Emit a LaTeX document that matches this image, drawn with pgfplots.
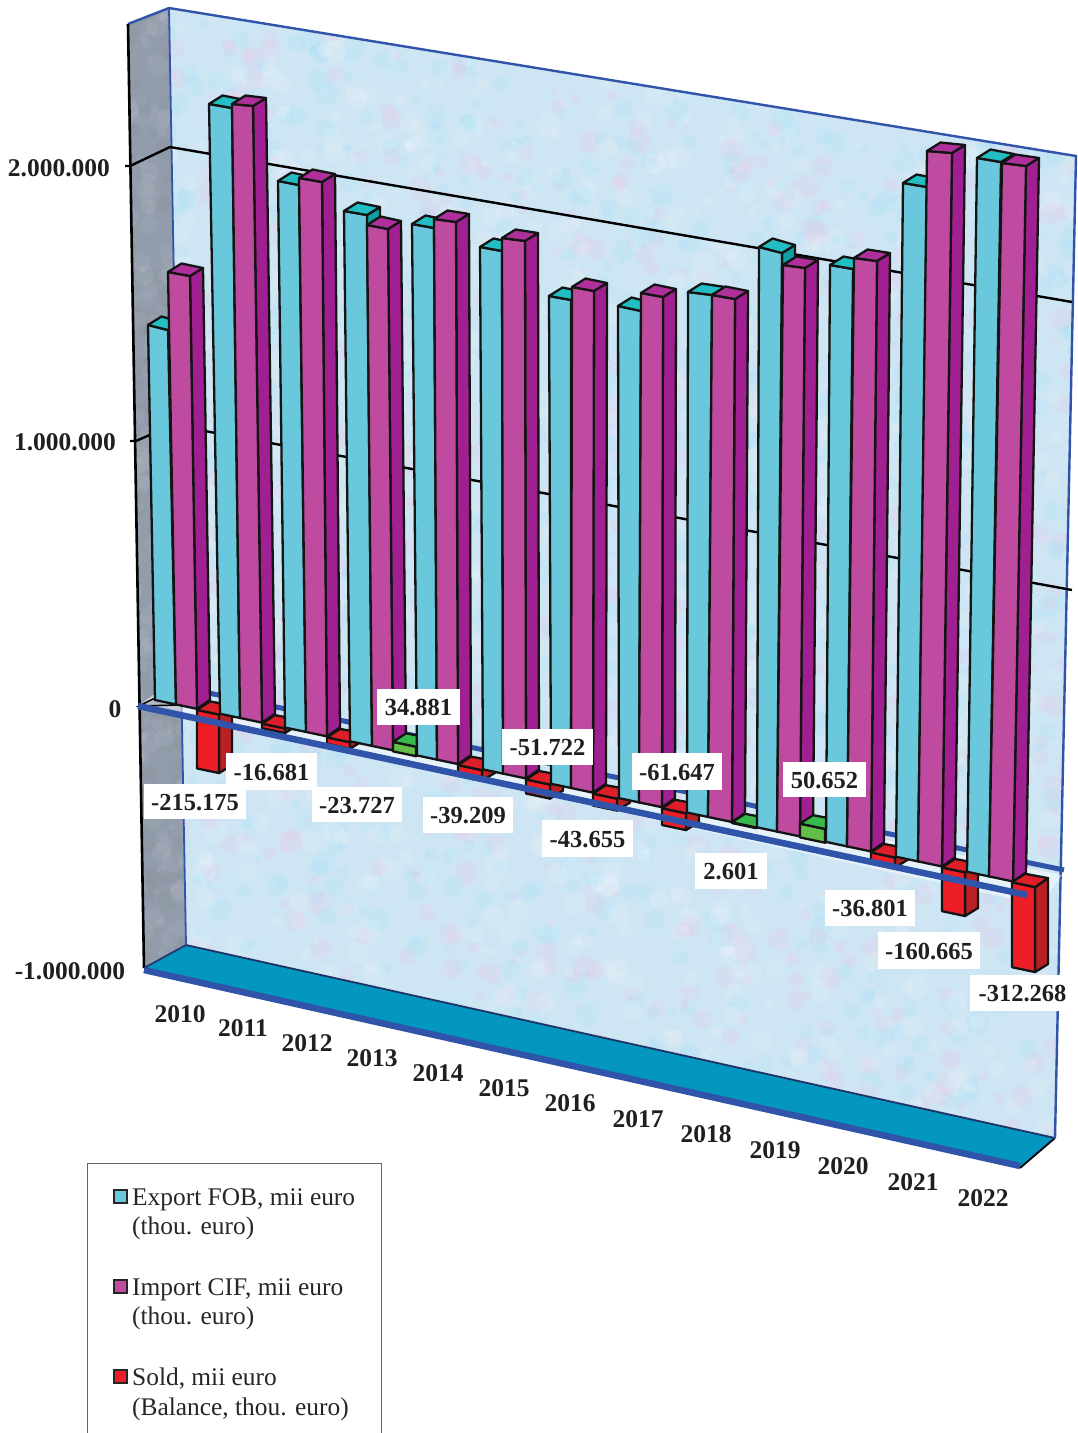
\documentclass[border=0pt]{standalone}
\usepackage{pgfplots}
\pgfplotsset{compat=1.18}
\usepackage{fontspec}
\setmainfont{Liberation Serif}
\definecolor{wallc}{RGB}{206,229,243}
\definecolor{sidewall}{RGB}{146,156,170}
\definecolor{floorc}{RGB}{3,150,190}
\definecolor{blueline}{RGB}{48,84,170}
\definecolor{expF}{RGB}{105,200,220}
\definecolor{expS}{RGB}{15,160,165}
\definecolor{expT}{RGB}{35,190,195}
\definecolor{impF}{RGB}{190,75,160}
\definecolor{impS}{RGB}{160,32,145}
\definecolor{impT}{RGB}{175,48,155}
\definecolor{redF}{RGB}{237,30,38}
\definecolor{redS}{RGB}{185,32,36}
\definecolor{redT}{RGB}{222,30,40}
\definecolor{grnF}{RGB}{98,190,72}
\definecolor{grnS}{RGB}{70,160,60}
\definecolor{grnT}{RGB}{55,185,75}
% y of the foot of a bar on the zero plane, in reference pixels
\newcommand{\ybase}[2]{\pgfmathsetmacro#1{700+0.2115*(#2-155)}}
% one face of a bar
\newcommand{\face}[9]{\addplot[draw=black!92,line width=2.3pt,line join=round,fill=#9,forget plot] coordinates {(#1,#2)(#3,#4)(#5,#6)(#7,#8)} -- cycle;}
% box: x top-left, y top-left, x top-right, y top-right, x foot-left, x foot-right, colour prefix
\newcommand{\tallbar}[7]{%
  \ybase{\yl}{#5}\ybase{\yr}{#6}%
  \pgfmathsetmacro{\xtb}{#3+13}\pgfmathsetmacro{\ytb}{#4-8}%
  \pgfmathsetmacro{\xtc}{#1+13.5}\pgfmathsetmacro{\ytc}{#2-8.5}%
  \pgfmathsetmacro{\xbb}{#6+13}\pgfmathsetmacro{\ybb}{\yr-9}%
  \face{#3}{#4}{\xtb}{\ytb}{\xbb}{\ybb}{#6}{\yr}{#7S}%
  \face{#1}{#2}{#3}{#4}{#6}{\yr}{#5}{\yl}{#7F}%
  \face{#1}{#2}{#3}{#4}{\xtb}{\ytb}{\xtc}{\ytc}{#7T}%
}
% balance bar: x left, x right, value in mil. euro (drawn below zero if negative)
\newcommand{\soldbar}[3]{%
  \ybase{\ya}{#1}\ybase{\yb}{#2}%
  \pgfmathsetmacro{\ya}{\ya+1}\pgfmathsetmacro{\yb}{\yb+1}%
  \pgfmathsetmacro{\hh}{0.272*abs(#3)}%
  \pgfmathsetmacro{\tl}{#3<0 ? \ya : \ya-\hh}\pgfmathsetmacro{\tr}{#3<0 ? \yb : \yb-\hh}%
  \pgfmathsetmacro{\bl}{#3<0 ? \ya+\hh : \ya}\pgfmathsetmacro{\br}{#3<0 ? \yb+\hh : \yb}%
  \pgfmathsetmacro{\xrb}{#2+13}\pgfmathsetmacro{\xlb}{#1+13}%
  \pgfmathsetmacro{\ytr}{\tr-9}\pgfmathsetmacro{\ybr}{\br-8}\pgfmathsetmacro{\ytl}{\tl-8.5}%
  \ifdim#3pt<0pt
    \face{#2}{\tr}{\xrb}{\ytr}{\xrb}{\ybr}{#2}{\br}{redS}%
    \face{#1}{\tl}{#2}{\tr}{#2}{\br}{#1}{\bl}{redF}%
    \face{#1}{\tl}{#2}{\tr}{\xrb}{\ytr}{\xlb}{\ytl}{redT}%
  \else
    \face{#2}{\tr}{\xrb}{\ytr}{\xrb}{\ybr}{#2}{\br}{grnS}%
    \face{#1}{\tl}{#2}{\tr}{#2}{\br}{#1}{\bl}{grnF}%
    \face{#1}{\tl}{#2}{\tr}{\xrb}{\ytr}{\xlb}{\ytl}{grnT}%
  \fi
}
\newcommand{\lab}[5]{\node[fill=white,inner sep=0pt,anchor=center,text depth=0pt,font=\fontsize{24.5}{26}\selectfont\bfseries,text=black!88,
   minimum width={(#3-#1)*1pt},minimum height={(#4-#2)*1pt}] at (axis cs:{(#1+#3)/2},{(#2+#4)/2+0.5}) {\raisebox{-2pt}{#5}};}
\newcommand{\txt}[3]{\node[inner sep=0pt,anchor=center,font=\fontsize{25.5}{26}\selectfont\bfseries,text=black!88] at (axis cs:#1,#2) {#3};}
\newcommand{\leg}[2]{\node[inner sep=0pt,anchor=base west,font=\fontsize{25.4}{26}\selectfont,text=black!85] at (axis cs:#1) {#2};}
\begin{document}
\begin{tikzpicture}
\begin{scope}[x=1pt,y=-1pt,yshift=1433pt]
  \useasboundingbox (0,0) rectangle (1077,1433);
  % back wall with mottled texture
  \fill[wallc] (169,8)--(1076,156)--(1055,1138)--(186,945)--cycle;
  \begin{scope}
    \clip (169,8)--(1076,156)--(1055,1138)--(186,945)--cycle;
    \pgfmathsetseed{11}
    \foreach \i in {1,...,3000}{
      \pgfmathsetmacro{\bx}{165+rnd*915}
      \pgfmathsetmacro{\by}{rnd*1150}
      \pgfmathsetmacro{\br}{3+rnd*9}
      \pgfmathsetmacro{\k}{rnd}
      \ifdim\k pt<0.38pt \def\bc{white}\else\ifdim\k pt<0.72pt \def\bc{blue!25!cyan!45!white}\else\def\bc{red!40!magenta!30!white}\fi\fi
      \fill[\bc,opacity=.13] (\bx,\by) circle (\br);
    }
  \end{scope}
  % side wall
  \fill[sidewall] (128,24)--(169,8)--(186,945)--(144,968)--cycle;
  \begin{scope}
    \clip (128,24)--(169,8)--(186,945)--(144,968)--cycle;
    \pgfmathsetseed{5}
    \foreach \i in {1,...,350}{
      \pgfmathsetmacro{\bx}{125+rnd*65}
      \pgfmathsetmacro{\by}{rnd*970}
      \pgfmathsetmacro{\br}{3+rnd*8}
      \pgfmathsetmacro{\k}{rnd}
      \ifdim\k pt<0.5pt \def\bc{white}\else\def\bc{black!50}\fi
      \fill[\bc,opacity=.06] (\bx,\by) circle (\br);
    }
  \end{scope}
\end{scope}
\begin{axis}[hide axis,scale only axis,width=1077pt,height=1433pt,xmin=0,xmax=1077,ymin=0,ymax=1433,y dir=reverse,clip=true]
% floor
\addplot[fill=floorc,draw=none,forget plot] coordinates {(186,945)(1055,1138)(1020,1168)(144,968)} -- cycle;
\addplot[draw=black,line width=1.8pt,forget plot] coordinates {(1020,1168)(1055,1138)};
\addplot[draw=blueline!60!black,line width=1.8pt,forget plot] coordinates {(186,945)(1055,1138)};
\addplot[draw=blueline,line width=6.5pt,forget plot] coordinates {(144,970)(1020,1166)};
% wall outlines
\addplot[draw=blueline,line width=2.4pt,forget plot] coordinates {(128,24)(169,8)(1076,156)(1055,1138)};
\addplot[draw=blueline,line width=1.8pt,forget plot] coordinates {(169,8)(186,945)};
\addplot[draw=black,line width=2.6pt,forget plot] coordinates {(128,24)(144,968)};
\addplot[draw=blueline!70!black,line width=1.8pt,forget plot] coordinates {(144,968)(186,945)};
% gridlines
\addplot[draw=black,line width=2.4pt,forget plot] coordinates {(125,166)(130,166)(170,147)(1072,302)};
\addplot[draw=black,line width=2.4pt,forget plot] coordinates {(130,441)(136,441)(172,425)(1072,590)};
% zero plane (pale) and its back edge
\addplot[fill=white,fill opacity=.5,draw=none,forget plot] coordinates {(153,695)(1062,875)(1040,905)(138,706)} -- cycle;
\addplot[draw=blueline,line width=5pt,forget plot] coordinates {(170,685)(1064,870)};
\addplot[fill=sidewall!70!white,draw=black,line width=1.5pt,forget plot] coordinates {(139,706)(153,699)(178,705)} -- cycle;
% 2010
\tallbar{148}{325}{168}{330}{155}{176}{exp}
\tallbar{168}{272}{190}{276}{176}{197}{imp}
\soldbar{197}{219}{-215.175}
% 2011
\tallbar{209}{104}{232}{108}{220}{240}{exp}
\tallbar{232}{104}{253}{106}{240}{262}{imp}
\soldbar{262}{285}{-16.681}
% 2012
\tallbar{278}{181}{299}{185}{285}{306}{exp}
\tallbar{299}{178}{322}{182}{306}{327}{imp}
\soldbar{327}{350}{-23.727}
% 2013
\tallbar{344}{211}{367}{215}{350}{372}{exp}
\tallbar{367}{225}{388}{229}{372}{393}{imp}
\soldbar{393}{416}{34.881}
% 2014
\tallbar{412}{224}{434}{228}{417}{437}{exp}
\tallbar{434}{219}{456}{222}{437}{458}{imp}
\soldbar{458}{482}{-39.209}
% 2015
\tallbar{480}{247}{502}{251}{483}{503}{exp}
\tallbar{502}{238}{525}{241}{503}{526}{imp}
\soldbar{526}{550}{-51.722}
% 2016
\tallbar{549}{296}{571}{300}{551}{571}{exp}
\tallbar{572}{287}{594}{291}{571}{593}{imp}
\soldbar{593}{617}{-43.655}
% 2017
\tallbar{618}{306}{641}{311}{619}{639}{exp}
\tallbar{641}{293}{663}{297}{639}{662}{imp}
\soldbar{662}{686}{-61.647}
% 2018
\tallbar{688}{292}{712}{295}{687}{708}{exp}
\tallbar{712}{295}{735}{299}{708}{732}{imp}
\soldbar{732}{756}{2.601}
% 2019
\tallbar{759}{247}{782}{253}{757}{777}{exp}
\tallbar{783}{265}{805}{268}{777}{800}{imp}
\soldbar{800}{825}{50.652}
% 2020
\tallbar{830}{265}{853}{269}{826}{847}{exp}
\tallbar{854}{258}{877}{261}{847}{871}{imp}
\soldbar{871}{895}{-36.801}
% 2021
\tallbar{903}{183}{927}{187}{896}{918}{exp}
\tallbar{927}{151}{952}{153}{918}{942}{imp}
\soldbar{942}{965}{-160.665}
% 2022
\tallbar{977}{158}{1001}{162}{967}{989}{exp}
\tallbar{1002}{163}{1026}{166}{989}{1013}{imp}
\soldbar{1012}{1035}{-312.268}
% zero plane, front edge
\addplot[draw=blueline,line width=6.5pt,forget plot] coordinates {(138,706)(1027,895)};
% axis texts
\txt{59}{168}{2.000.000}
\txt{65}{442}{1.000.000}
\txt{115}{709}{0}
\txt{70}{971}{-1.000.000}
% year labels
\txt{180}{1014}{2010}\txt{243}{1028}{2011}\txt{307}{1043}{2012}\txt{372}{1058}{2013}
\txt{438}{1073}{2014}\txt{504}{1088}{2015}\txt{570}{1103}{2016}\txt{638}{1119}{2017}
\txt{706}{1134}{2018}\txt{775}{1150}{2019}\txt{843}{1166}{2020}\txt{913}{1182}{2021}\txt{983}{1198}{2022}
% data labels
\lab{144}{783}{246}{818}{-215.175}
\lab{226}{752}{317}{789}{-16.681}
\lab{312}{786}{402}{821}{-23.727}
\lab{377}{688}{460}{724}{34.881}
\lab{423}{796}{513}{832}{-39.209}
\lab{502}{728}{593}{764}{-51.722}
\lab{542}{819}{633}{856}{-43.655}
\lab{632}{752}{722}{789}{-61.647}
\lab{695}{852}{767}{888}{2.601}
\lab{783}{761}{866}{796}{50.652}
\lab{825}{889}{915}{925}{-36.801}
\lab{878}{931}{980}{968}{-160.665}
\lab{970}{974}{1075}{1010}{-312.268}
% legend
\addplot[draw=black!60,line width=1pt,forget plot] coordinates {(87,1440)(87,1163.5)(381,1163.5)(381,1440)};
\addplot[draw=black!85,line width=1.6pt,fill=expF,forget plot] coordinates {(114,1190)(127,1190)(127,1203)(114,1203)} -- cycle;
\addplot[draw=black!85,line width=1.6pt,fill=impF,forget plot] coordinates {(114,1280)(127,1280)(127,1293)(114,1293)} -- cycle;
\addplot[draw=black!85,line width=1.6pt,fill=redF,forget plot] coordinates {(114,1370)(127,1370)(127,1383)(114,1383)} -- cycle;
\leg{132,1205}{Export FOB, mii euro}
\leg{132,1234}{(thou. euro)}
\leg{132,1295}{Import CIF, mii euro}
\leg{132,1324}{(thou. euro)}
\leg{132,1385}{Sold, mii euro}
\leg{132,1415}{(Balance, thou. euro)}
\end{axis}
\end{tikzpicture}
\end{document}
